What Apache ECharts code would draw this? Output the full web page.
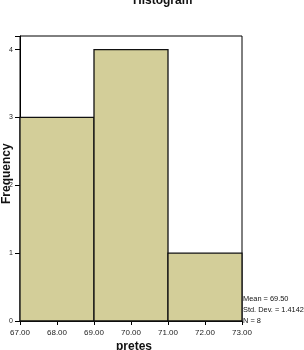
<!DOCTYPE html>
<html><head><meta charset="utf-8">
<script src="https://cdn.jsdelivr.net/npm/echarts@6/dist/echarts.min.js"></script>
<style>html,body{margin:0;padding:0;background:#fff}#c{width:304px;height:350px}</style>
</head><body><div id="c"></div>
<script>
const binStarts = [67, 69, 71];
const binEnds = [69, 71, 73];
const frequencies = [3, 4, 1];
const xTicks = [67, 68, 69, 70, 71, 72, 73];
const yTicks = [0, 1, 2, 3, 4];
const statsLines = ['Mean = 69.50', 'Std. Dev. = 1.4142', 'N = 8'];

const data = binStarts.map((s, i) => [s, binEnds[i], frequencies[i]]);
const chart = echarts.init(document.getElementById('c'));
chart.setOption({
  animation: false,
  textStyle: {fontFamily: 'Liberation Sans, Arial, sans-serif'},
  grid: {left: 20, right: 62, top: 36, bottom: 29, show: true, borderColor: '#000', borderWidth: 1, backgroundColor: 'transparent'},
  xAxis: {
    type: 'value', min: 67, max: 73, interval: 1,
    axisLine: {show: true, onZero: false, lineStyle: {color: '#000'}},
    axisTick: {show: true, length: 4, lineStyle: {color: '#000'}},
    splitLine: {show: false},
    axisLabel: {color: '#222', fontSize: 8, margin: 8, formatter: v => xTicks.includes(v) ? v.toFixed(2) : ''}
  },
  yAxis: {
    type: 'value', min: 0, max: 4.2, interval: 1,
    axisLine: {show: true, lineStyle: {color: '#000'}},
    axisTick: {show: true, length: 5, lineStyle: {color: '#000'}},
    splitLine: {show: false},
    axisLabel: {color: '#222', fontSize: 7, margin: 7, formatter: v => yTicks.includes(v) ? String(v) : ''}
  },
  series: [{
    type: 'custom',
    data: data,
    encode: {x: [0, 1], y: 2},
    renderItem: function (params, api) {
      const p0 = api.coord([api.value(0), api.value(2)]);
      const p1 = api.coord([api.value(1), 0]);
      return {
        type: 'rect',
        shape: {x: p0[0], y: p0[1], width: p1[0] - p0[0], height: p1[1] - p0[1]},
        style: {fill: '#d3ce99', stroke: '#111', lineWidth: 1.3}
      };
    }
  }],
  graphic: [
    {type: 'text', left: 133, top: -5, style: {text: 'Histogram', font: 'bold 12px Liberation Sans, Arial, sans-serif', fill: '#111'}},
    {type: 'text', left: 116, top: 341, style: {text: 'pretes', font: 'bold 12px Liberation Sans, Arial, sans-serif', fill: '#111'}},
    {type: 'text', x: 1, y: 204, rotation: Math.PI / 2, style: {text: 'Frequency', font: 'bold 12px Liberation Sans, Arial, sans-serif', fill: '#111', verticalAlign: 'top'}},
    {type: 'text', left: 243, top: 293, style: {text: statsLines.join('\n'), font: '7.4px Liberation Sans, Arial, sans-serif', lineHeight: 11, fill: '#111'}}
  ]
});
</script></body></html>
